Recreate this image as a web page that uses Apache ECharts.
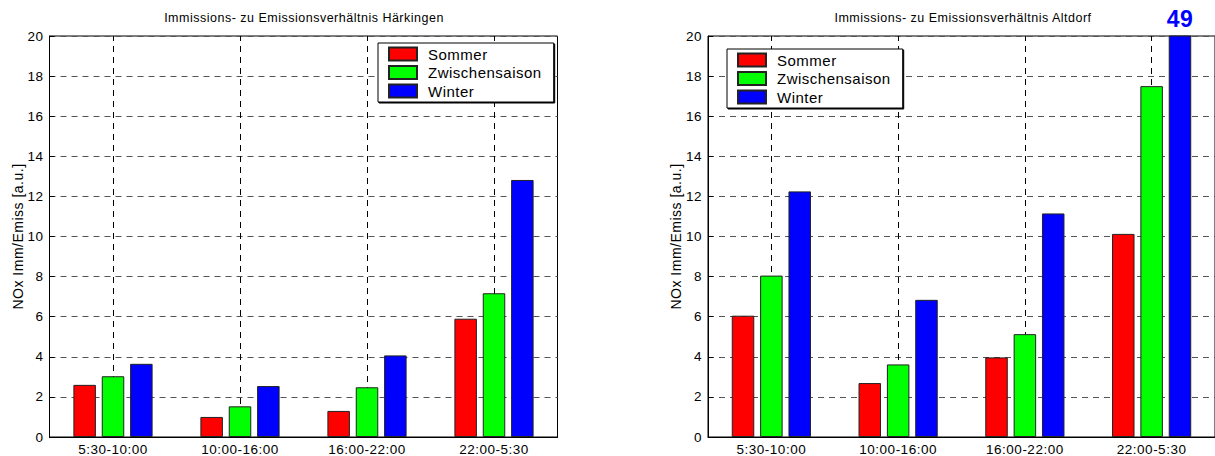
<!DOCTYPE html>
<html>
<head>
<meta charset="utf-8">
<script src="https://cdn.jsdelivr.net/npm/echarts@6/dist/echarts.min.js"></script>
<style>
html,body{margin:0;padding:0;background:#fff}
#c{width:1215px;height:456px}
#c text{letter-spacing:0.5px}
</style>
</head>
<body>
<div id="c"></div>
<script>
const categories = ['5:30-10:00', '10:00-16:00', '16:00-22:00', '22:00-5:30'];
const seriesNames = ['Sommer', 'Zwischensaison', 'Winter'];
const seriesColors = ['#ff0000', '#00ff00', '#0000ff'];
const titleLeft = 'Immissions- zu Emissionsverhältnis Härkingen';
const titleRight = 'Immissions- zu Emissionsverhältnis Altdorf';
const yAxisName = 'NOx Imm/Emiss [a.u.]';
const yMin = 0, yMax = 20, yInterval = 2;

const haerkingenSommer = [2.6, 1.0, 1.3, 5.9];
const haerkingenZwischen = [3.03, 1.53, 2.48, 7.17];
const haerkingenWinter = [3.65, 2.54, 4.07, 12.82];

const altdorfSommer = [6.05, 2.69, 3.97, 10.13];
const altdorfZwischen = [8.05, 3.62, 5.13, 17.5];
const altdorfWinter = [12.25, 6.84, 11.15, 49];

const FONT = 'Liberation Sans, Arial, sans-serif';

const chart = echarts.init(document.getElementById('c'), null, {renderer: 'svg'});

function makeAxes(gi) {
  return {
    x: {
      type: 'category', gridIndex: gi, data: categories, boundaryGap: true,
      axisLine: {show: true, lineStyle: {color: '#000', width: 1}},
      axisTick: {show: true, inside: true, alignWithLabel: true, length: 5, lineStyle: {color: '#000'}},
      axisLabel: {color: '#000', fontFamily: FONT, fontSize: 13.5, margin: 5},
      splitLine: {show: false}
    },
    y: {
      type: 'value', gridIndex: gi, min: yMin, max: yMax, interval: yInterval,
      name: yAxisName, nameLocation: 'middle', nameGap: 25,
      nameTextStyle: {color: '#000', fontFamily: FONT, fontSize: 14},
      axisLine: {show: true, lineStyle: {color: '#000', width: 1}},
      axisTick: {show: true, inside: true, length: 5, lineStyle: {color: '#000'}},
      axisLabel: {color: '#000', fontFamily: FONT, fontSize: 13.5, margin: 6},
      splitLine: {show: true, lineStyle: {color: '#555', width: 1.2, type: [6, 5]}}
    }
  };
}

const a0 = makeAxes(0), a1 = makeAxes(1);

function vLines() {
  return {
    silent: true, symbol: 'none', z: 1,
    label: {show: false},
    lineStyle: {color: '#000', width: 1, type: [6, 5]},
    data: categories.map(c => ({xAxis: c}))
  };
}

function bar(name, data, gi, color, withLines) {
  const s = {
    type: 'bar', name: name, xAxisIndex: gi, yAxisIndex: gi, data: data,
    barWidth: 22.5, barGap: '26%', clip: true, z: 2,
    itemStyle: {color: color, borderColor: '#222', borderWidth: 1},
    emphasis: {disabled: true}
  };
  if (withLines) s.markLine = vLines();
  return s;
}

const altdorfWinterData = altdorfWinter.map(v => v > yMax ? {
  value: v,
  label: {show: true, position: 'top', distance: 5, formatter: String(v),
          color: '#0000ff', fontWeight: 'bold', fontSize: 23, fontFamily: FONT}
} : v);

function legendAt(left, top) {
  return {
    orient: 'vertical', left: left, top: top, selectedMode: false,
    data: seriesNames,
    itemWidth: 28, itemHeight: 13, itemGap: 2.5,
    icon: 'rect',
    padding: [3, 19, 3, 10],
    backgroundColor: '#fff', borderColor: '#000', borderWidth: 1,
    shadowColor: '#000', shadowOffsetX: 1, shadowOffsetY: 1, shadowBlur: 0.01,
    textStyle: {color: '#000', fontFamily: FONT, fontSize: 15, lineHeight: 16, padding: [0, 0, 0, 6]}
  };
}

const option = {
  animation: false,
  backgroundColor: '#fff',
  title: [
    {text: titleLeft, left: 304, top: 11, textAlign: 'center', padding: 0,
     textStyle: {color: '#000', fontFamily: FONT, fontSize: 12.5, fontWeight: 'normal'}},
    {text: titleRight, left: 963, top: 11, textAlign: 'center', padding: 0,
     textStyle: {color: '#000', fontFamily: FONT, fontSize: 12.5, fontWeight: 'normal'}}
  ],
  legend: [legendAt(378, 43), legendAt(727, 49)],
  grid: [
    {left: 49.5, top: 36, width: 508, height: 403, show: true, borderColor: '#000', borderWidth: 1, backgroundColor: 'transparent'},
    {left: 708, top: 36, width: 518, height: 403, show: true, borderColor: '#000', borderWidth: 1, backgroundColor: 'transparent'}
  ],
  xAxis: [a0.x, a1.x],
  yAxis: [a0.y, a1.y],
  series: [
    bar(seriesNames[0], haerkingenSommer, 0, seriesColors[0], false),
    bar(seriesNames[1], haerkingenZwischen, 0, seriesColors[1], true),
    bar(seriesNames[2], haerkingenWinter, 0, seriesColors[2], false),
    bar(seriesNames[0], altdorfSommer, 1, seriesColors[0], false),
    bar(seriesNames[1], altdorfZwischen, 1, seriesColors[1], true),
    bar(seriesNames[2], altdorfWinterData, 1, seriesColors[2], false)
  ]
};
chart.setOption(option);
</script>
</body>
</html>
